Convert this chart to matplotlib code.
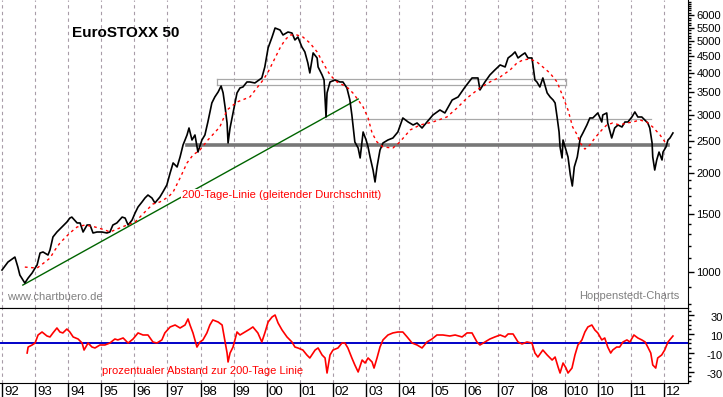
import matplotlib.pyplot as plt
from matplotlib.ticker import FixedLocator, NullFormatter
from matplotlib.transforms import ScaledTranslation

plt.rcParams['font.family'] = ['Liberation Sans', 'DejaVu Sans']

# EuroSTOXX 50 (decimal year, index points)
price_t = [1992.00, 1992.18, 1992.39, 1992.48, 1992.54, 1992.63, 1992.69, 1992.79, 1992.91, 1993.00,
           1993.06, 1993.15, 1993.24, 1993.39, 1993.45, 1993.54, 1993.66, 1993.81, 1993.96, 1994.05,
           1994.11, 1994.27, 1994.36, 1994.45, 1994.57, 1994.66, 1994.75, 1994.87, 1995.02, 1995.17,
           1995.26, 1995.35, 1995.47, 1995.63, 1995.72, 1995.81, 1995.93, 1996.02, 1996.11, 1996.23,
           1996.32, 1996.41, 1996.53, 1996.62, 1996.77, 1996.86, 1996.98, 1997.08, 1997.17, 1997.29,
           1997.38, 1997.47, 1997.59, 1997.65, 1997.74, 1997.83, 1997.92, 1998.04, 1998.13, 1998.22,
           1998.34, 1998.43, 1998.53, 1998.62, 1998.68, 1998.74, 1998.80, 1998.83, 1998.89, 1998.95,
           1999.04, 1999.10, 1999.19, 1999.28, 1999.40, 1999.49, 1999.64, 1999.85, 1999.94, 2000.04,
           2000.16, 2000.25, 2000.40, 2000.49, 2000.64, 2000.76, 2000.85, 2000.94, 2001.06, 2001.15,
           2001.24, 2001.30, 2001.40, 2001.52, 2001.55, 2001.67, 2001.73, 2001.79, 2001.82, 2001.91,
           2002.06, 2002.21, 2002.30, 2002.42, 2002.51, 2002.57, 2002.66, 2002.76, 2002.82, 2002.91,
           2003.00, 2003.06, 2003.12, 2003.21, 2003.27, 2003.33, 2003.42, 2003.51, 2003.66, 2003.81,
           2003.96, 2004.11, 2004.27, 2004.42, 2004.54, 2004.69, 2004.84, 2005.02, 2005.23, 2005.38,
           2005.60, 2005.78, 2005.99, 2006.20, 2006.38, 2006.44, 2006.59, 2006.74, 2006.89, 2007.05,
           2007.20, 2007.29, 2007.41, 2007.50, 2007.59, 2007.71, 2007.80, 2007.89, 2008.01, 2008.04,
           2008.10, 2008.16, 2008.25, 2008.34, 2008.47, 2008.56, 2008.65, 2008.71, 2008.77, 2008.83,
           2008.86, 2008.92, 2008.95, 2009.04, 2009.10, 2009.17, 2009.23, 2009.29, 2009.38, 2009.47,
           2009.55, 2009.67, 2009.76, 2009.85, 2010.00, 2010.12, 2010.15, 2010.27, 2010.30, 2010.42,
           2010.51, 2010.61, 2010.73, 2010.82, 2010.91, 2011.03, 2011.12, 2011.21, 2011.33, 2011.42,
           2011.51, 2011.57, 2011.64, 2011.66, 2011.72, 2011.78, 2011.85, 2011.94, 2011.97, 2012.06,
           2012.12, 2012.18, 2012.27]
price_v = [1014, 1072, 1110, 1035, 979, 946, 926, 959, 993, 1028,
           1050, 1142, 1150, 1126, 1166, 1277, 1322, 1369, 1417, 1457,
           1467, 1408, 1408, 1322, 1388, 1388, 1313, 1322, 1322, 1313,
           1322, 1388, 1408, 1467, 1457, 1388, 1437, 1509, 1574, 1630,
           1676, 1711, 1676, 1619, 1687, 1747, 1835, 1996, 2140, 2081,
           2231, 2426, 2601, 2731, 2512, 2601, 2309, 2512, 2601, 2848,
           3252, 3391, 3511, 3661, 3488, 3162, 2828, 2460, 2731, 2929,
           3252, 3488, 3611, 3636, 3765, 3765, 3739, 3872, 4181, 4775,
           5153, 5486, 5410, 5226, 5335, 5298, 5047, 5153, 4807, 4643,
           4300, 4010, 4611, 4452, 4181, 3954, 3818, 2949, 3488, 3765,
           3818, 3765, 3765, 3611, 3320, 2991, 2477, 2375, 2216, 2656,
           2512, 2392, 2231, 2037, 1874, 2081, 2342, 2460, 2512, 2547,
           2656, 2929, 2848, 2789, 2828, 2731, 2848, 2991, 3097, 3033,
           3320, 3391, 3636, 3872, 3872, 3561, 3765, 3954, 4094, 4240,
           4181, 4452, 4547, 4643, 4452, 4547, 4611, 4452, 4452, 4240,
           3818, 3765, 3636, 3872, 3488, 3391, 3320, 3252, 2949, 2656,
           2392, 2216, 2512, 2342, 2231, 1968, 1822, 2081, 2231, 2547,
           2638, 2789, 2929, 2929, 3033, 2848, 2991, 3033, 2828, 2547,
           2731, 2789, 2750, 2848, 2848, 2949, 3054, 2949, 2949, 2888,
           2828, 2731, 2460, 2231, 2037, 2185, 2309, 2185, 2309, 2392,
           2512, 2547, 2638]

# 200-Tage-Linie (red dashed)
ma_t = [1992.69, 1993.06, 1993.30, 1993.45, 1993.60, 1993.75, 1993.90, 1994.05, 1994.27, 1994.51,
        1994.81, 1995.11, 1995.26, 1995.56, 1995.78, 1996.02, 1996.32, 1996.56, 1996.77, 1997.02,
        1997.17, 1997.38, 1997.59, 1997.77, 1997.98, 1998.22, 1998.58, 1998.80, 1999.10, 1999.49,
        1999.70, 1999.89, 2000.04, 2000.19, 2000.40, 2000.55, 2000.70, 2000.91, 2001.09, 2001.30,
        2001.52, 2001.70, 2001.91, 2002.12, 2002.30, 2002.45, 2002.60, 2002.76, 2002.91, 2003.06,
        2003.18, 2003.33, 2003.51, 2003.81, 2004.02, 2004.33, 2004.63, 2005.02, 2005.44, 2005.75,
        2006.05, 2006.44, 2006.74, 2007.05, 2007.35, 2007.56, 2007.74, 2007.95, 2008.16, 2008.34,
        2008.55, 2008.77, 2008.95, 2009.10, 2009.24, 2009.38, 2009.47, 2009.61, 2009.76, 2009.91,
        2010.12, 2010.27, 2010.45, 2010.66, 2010.88, 2011.06, 2011.27, 2011.48, 2011.66, 2011.88,
        2012.03, 2012.12]
ma_v = [1035, 1028, 1072, 1102, 1166, 1224, 1268, 1313, 1369, 1388,
        1369, 1341, 1322, 1360, 1388, 1417, 1521, 1607, 1630, 1687,
        1747, 1927, 2140, 2262, 2342, 2512, 2750, 3097, 3274, 3391,
        3611, 3818, 4037, 4329, 4775, 5047, 5226, 5226, 5153, 4944,
        4643, 4300, 3954, 3765, 3687, 3611, 3488, 3320, 3162, 2929,
        2638, 2477, 2392, 2375, 2477, 2693, 2789, 2848, 2949, 3141,
        3367, 3611, 3765, 3899, 4094, 4300, 4390, 4421, 4329, 4181,
        4010, 3765, 3391, 3097, 2750, 2601, 2460, 2358, 2426, 2547,
        2693, 2789, 2828, 2789, 2828, 2848, 2888, 2848, 2750, 2601,
        2477, 2460]

# prozentualer Abstand zur 200-Tage Linie (%)
dev_t = [1992.76, 1992.79, 1992.91, 1993.00, 1993.09, 1993.21, 1993.36, 1993.45, 1993.54, 1993.66,
         1993.75, 1993.84, 1993.96, 1994.05, 1994.15, 1994.30, 1994.42, 1994.48, 1994.60, 1994.72,
         1994.81, 1994.96, 1995.11, 1995.26, 1995.41, 1995.50, 1995.66, 1995.81, 1995.96, 1996.11,
         1996.26, 1996.41, 1996.56, 1996.68, 1996.83, 1996.92, 1997.08, 1997.23, 1997.38, 1997.53,
         1997.62, 1997.68, 1997.77, 1997.89, 1997.98, 1998.07, 1998.19, 1998.28, 1998.37, 1998.53,
         1998.65, 1998.74, 1998.80, 1998.83, 1998.89, 1998.98, 1999.10, 1999.19, 1999.34, 1999.49,
         1999.58, 1999.73, 1999.85, 1999.95, 2000.04, 2000.16, 2000.25, 2000.34, 2000.46, 2000.61,
         2000.76, 2000.85, 2000.94, 2001.09, 2001.21, 2001.30, 2001.46, 2001.55, 2001.67, 2001.76,
         2001.82, 2001.91, 2002.00, 2002.15, 2002.27, 2002.36, 2002.45, 2002.57, 2002.66, 2002.76,
         2002.88, 2002.97, 2003.06, 2003.18, 2003.24, 2003.33, 2003.42, 2003.51, 2003.66, 2003.81,
         2003.96, 2004.11, 2004.24, 2004.39, 2004.54, 2004.69, 2004.84, 2004.99, 2005.14, 2005.32,
         2005.53, 2005.69, 2005.90, 2006.05, 2006.20, 2006.35, 2006.44, 2006.59, 2006.74, 2006.89,
         2007.05, 2007.20, 2007.29, 2007.44, 2007.59, 2007.71, 2007.86, 2008.01, 2008.10, 2008.19,
         2008.34, 2008.47, 2008.62, 2008.71, 2008.80, 2008.86, 2008.95, 2009.04, 2009.10, 2009.22,
         2009.31, 2009.40, 2009.52, 2009.61, 2009.70, 2009.82, 2009.91, 2010.00, 2010.12, 2010.21,
         2010.30, 2010.39, 2010.45, 2010.57, 2010.66, 2010.76, 2010.88, 2010.97, 2011.09, 2011.21,
         2011.33, 2011.43, 2011.51, 2011.60, 2011.66, 2011.75, 2011.81, 2011.93, 2012.02, 2012.12,
         2012.27]
dev_v = [-10.2, -3.8, -1.6, 0.5, 9.1, 12.3, 8.0, 7.0, 11.3, 16.6,
         12.3, 11.3, 15.5, 12.3, 7.0, 4.8, 0.5, -7.0, 0.5, -3.8,
         -4.8, -1.6, -1.6, 0.5, 4.8, 3.8, 5.9, 0.5, 4.8, 11.3,
         9.1, 9.1, 1.6, 0.5, 3.8, 11.3, 17.7, 19.8, 16.6, 19.8,
         26.3, 19.8, 11.3, -3.8, 1.6, 3.8, 11.3, 19.8, 25.2, 23.0,
         19.8, 1.6, -10.2, -19.8, -10.2, -3.8, 12.3, 9.1, 12.3, 15.5,
         17.7, 11.3, 1.6, 12.3, 23.0, 28.4, 30.5, 22.0, 14.5, 7.0,
         1.6, -3.8, -4.8, -7.0, -12.3, -15.5, -7.0, -4.8, -12.3, -15.5,
         -31.6, -12.3, -7.0, -4.8, 0.5, 0.5, -4.8, -15.5, -23.0, -30.5,
         -17.7, -20.9, -15.5, -19.8, -26.3, -15.5, -3.8, 3.8, 9.1, 11.3,
         12.3, 12.3, 7.0, 0.5, -1.6, -4.8, 1.6, 4.8, 9.1, 9.1,
         8.0, 9.1, 7.0, 11.3, 11.3, 1.6, -1.6, 1.6, 4.8, 7.0,
         9.1, 7.0, 10.2, 10.2, 1.6, -0.5, 1.6, 0.5, -10.2, -14.5,
         -7.0, -12.3, -17.7, -14.5, -25.2, -31.6, -20.9, -26.3, -31.6, -26.3,
         -12.3, -1.6, 3.8, 12.3, 17.7, 19.8, 14.5, 11.3, 3.8, 5.9,
         -3.8, -10.2, -7.0, -3.8, -3.8, 1.6, 3.8, 1.6, 9.1, 5.9,
         3.8, 1.6, -3.8, -10.2, -23.0, -26.3, -15.5, -12.3, -7.0, 1.6,
         8.0]

# trend line and support/resistance levels
trend_t = [1992.63, 2002.76]
trend_v = [913, 3343]
box_t = [1998.50, 2009.03]
box_levels = [3844, 3684]
mid_t = [2001.76, 2011.61]
mid_level = 2907
support_t = [1997.59, 2012.12]
support_level = 2427

years = list(range(1992, 2013))
year_labels = ['92', '93', '94', '95', '96', '97', '98', '99', '00', '01', '02',
               '03', '04', '05', '06', '07', '08', '010', '10', '11', '12']
price_ticks = [1000, 1500, 2000, 2500, 3000, 3500, 4000, 4500, 5000, 5500, 6000]
dev_ticks = [30, 10, -10, -30]

grid_color = '#a89ca8'
xmin, xmax = 1991.94, 2012.725

fig = plt.figure(figsize=(7.23, 3.97), dpi=100)
ax1 = fig.add_axes([0, 89 / 397, 688 / 723, 308 / 397])
ax2 = fig.add_axes([0, 14 / 397, 688 / 723, 75 / 397])

# --- top panel ---
for y in years:
    ax1.axvline(y, color=grid_color, lw=0.8, ls=(0, (3, 3)), zorder=0)
ax1.plot(support_t, [support_level] * 2, color='#777777', lw=2.6, zorder=1)
ax1.plot(mid_t, [mid_level] * 2, color='#a8a8a8', lw=0.9, zorder=1)
for lvl in box_levels:
    ax1.plot(box_t, [lvl, lvl], color='#a8a8a8', lw=0.9, zorder=1)
for bt in box_t:
    ax1.plot([bt, bt], box_levels, color='#a8a8a8', lw=0.9, zorder=1)
ax1.plot(trend_t, trend_v, color='#006400', lw=1.0, zorder=2)
ax1.plot(price_t, price_v, color='black', lw=1.2, zorder=3)
ax1.plot(ma_t, ma_v, color='red', lw=1.0, ls=(0, (2, 2.5)), zorder=4)

ax1.set_yscale('log')
ax1.set_ylim(778, 6670)
ax1.set_xlim(xmin, xmax)
ax1.yaxis.tick_right()
ax1.yaxis.set_major_locator(FixedLocator(price_ticks))
ax1.yaxis.set_minor_locator(FixedLocator([v for v in range(800, 6700, 100) if v not in price_ticks]))
ax1.yaxis.set_minor_formatter(NullFormatter())
ax1.set_yticklabels([str(v) for v in price_ticks])
ax1.tick_params(axis='y', which='major', length=4, width=1, pad=2, labelsize=8)
ax1.tick_params(axis='y', which='minor', length=2, width=1)
ax1.set_xticks([])
for s in ['top', 'left']:
    ax1.spines[s].set_visible(False)

ax1.text(0.105, 0.893, 'EuroSTOXX 50', transform=ax1.transAxes, fontsize=11,
         fontweight='bold', va='center', ha='left')
ax1.text(0.2645, 0.367, '200-Tage-Linie (gleitender Durchschnitt)', transform=ax1.transAxes,
         fontsize=8, color='red', va='center', ha='left', zorder=6,
         bbox=dict(facecolor='white', edgecolor='none', pad=0.5))
ax1.text(0.0102, 0.036, 'www.chartbuero.de', transform=ax1.transAxes,
         fontsize=8, color='#808080', va='center', ha='left')
ax1.text(0.987, 0.039, 'Hoppenstedt-Charts', transform=ax1.transAxes,
         fontsize=8, color='#808080', va='center', ha='right')

# --- lower panel ---
for y in years:
    ax2.axvline(y, color=grid_color, lw=0.8, ls=(0, (3, 3)), zorder=0)
ax2.axhline(0, color='#0000c8', lw=1.4, zorder=1)
ax2.plot(dev_t, dev_v, color='red', lw=1.2, zorder=2)
ax2.set_xlim(xmin, xmax)
ax2.set_ylim(-42.3, 38)
ax2.yaxis.tick_right()
ax2.set_yticks(dev_ticks)
ax2.set_yticklabels([str(v) for v in dev_ticks], ha='right')
ax2.yaxis.set_minor_locator(FixedLocator([35, 25, 20, 15, 5, 0, -5, -15, -20, -25, -35, -40]))
ax2.tick_params(axis='y', which='major', length=4, width=1, pad=21, labelsize=8)
ax2.tick_params(axis='y', which='minor', length=2, width=1)
shift = ScaledTranslation(0, -2 / 100, fig.dpi_scale_trans)
for lab in ax2.get_yticklabels():
    lab.set_transform(lab.get_transform() + shift)
ax2.set_xticks(years)
ax2.set_xticklabels([])
ax2.tick_params(axis='x', length=10, width=1, direction='out')
ax2.spines['left'].set_visible(False)
for y, lab in zip(years, year_labels):
    ax2.text(y + 0.06, -0.04, lab, transform=ax2.get_xaxis_transform(),
             fontsize=9.5, va='top', ha='left')
ax2.text(0.148, 0.16, 'prozentualer Abstand zur 200-Tage Linie', transform=ax2.transAxes,
         fontsize=8, color='red', va='center', ha='left')

fig.savefig('out.png', dpi=100)
